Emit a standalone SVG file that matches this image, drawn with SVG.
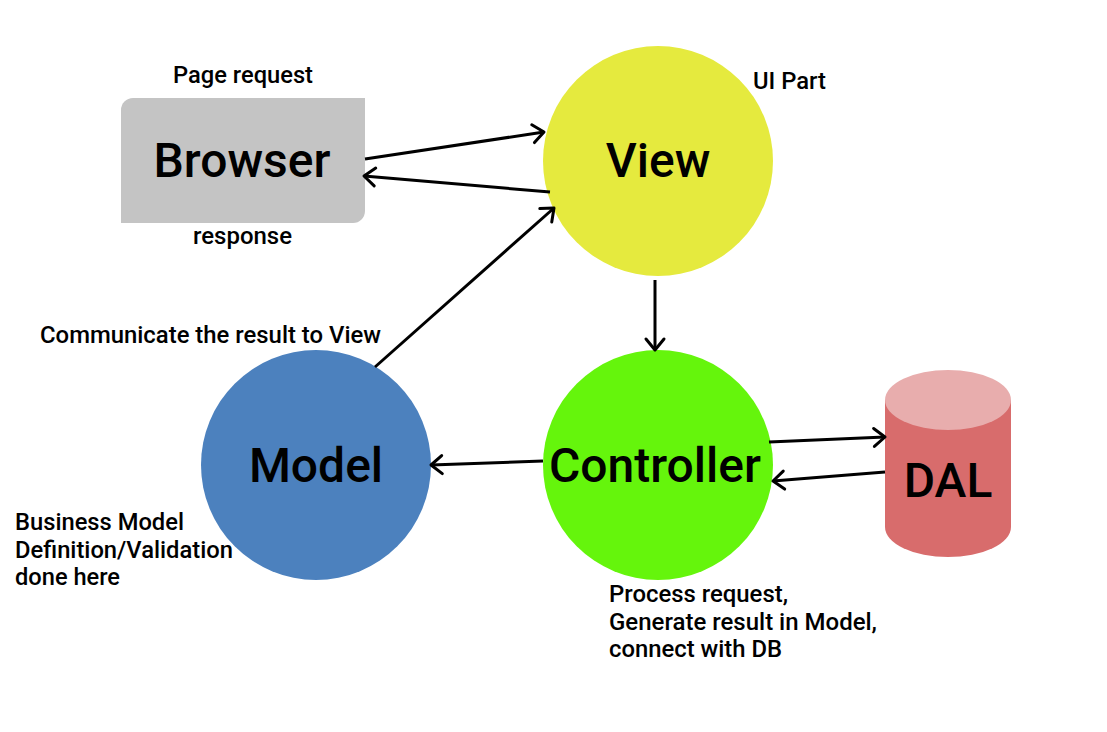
<svg xmlns="http://www.w3.org/2000/svg" width="1107" height="732" viewBox="0 0 1107 732">
<style>
text{font-family:Roboto,"Liberation Sans",sans-serif;fill:#000;}
.big{font-size:48px;font-weight:500;text-anchor:middle;}
.small{font-size:23px;font-weight:500;}
.conn{stroke:#000;stroke-width:3;fill:none;marker-end:url(#ah);}
</style>
<defs>
<marker id="ah" markerUnits="userSpaceOnUse" markerWidth="30" markerHeight="30" viewBox="-15 -15 30 30" refX="0" refY="0" orient="auto">
<path d="M-11,-9 L0,0 L-11,9" fill="none" stroke="#000" stroke-width="3" stroke-linecap="round" stroke-linejoin="round"/>
</marker>
</defs>
<rect width="1107" height="732" fill="#fff"/>
<g id="browser">
<path d="M133,98 H365 V211 A12,12 0 0 1 353,223 H121 V110 A12,12 0 0 1 133,98 Z" fill="#c4c4c4"/>
<text class="big" x="242" y="177">Browser</text>
</g>
<g id="view">
<circle cx="658" cy="161" r="115" fill="#e5ea3e"/>
<text class="big" x="658" y="177">View</text>
</g>
<g id="controller">
<circle cx="658" cy="465" r="115" fill="#65f50c"/>
<text class="big" x="655" y="482">Controller</text>
</g>
<g id="model">
<circle cx="316" cy="465" r="115" fill="#4c81be"/>
<text class="big" x="316" y="482">Model</text>
</g>
<g id="dal">
<path d="M885,400 V527 A63,30 0 0 0 1011,527 V400 Z" fill="#d86c6c"/>
<ellipse cx="948" cy="400" rx="63" ry="30" fill="#e8adad"/>
<text class="big" x="948" y="497">DAL</text>
</g>
<g id="labels">
<text class="small" x="173" y="83" textLength="140" lengthAdjust="spacingAndGlyphs">Page request</text>
<text class="small" x="193" y="244" textLength="99" lengthAdjust="spacingAndGlyphs">response</text>
<text class="small" x="753" y="89" textLength="73" lengthAdjust="spacingAndGlyphs">UI Part</text>
<text class="small" x="40" y="343" textLength="341" lengthAdjust="spacingAndGlyphs">Communicate the result to View</text>
<text class="small" x="15" y="530" textLength="169" lengthAdjust="spacingAndGlyphs">Business Model</text>
<text class="small" x="15" y="558" textLength="218" lengthAdjust="spacingAndGlyphs">Definition/Validation</text>
<text class="small" x="15" y="585" textLength="105" lengthAdjust="spacingAndGlyphs">done here</text>
<text class="small" x="609" y="602" textLength="179" lengthAdjust="spacingAndGlyphs">Process request,</text>
<text class="small" x="609" y="630" textLength="268" lengthAdjust="spacingAndGlyphs">Generate result in Model,</text>
<text class="small" x="609" y="657" textLength="173" lengthAdjust="spacingAndGlyphs">connect with DB</text>
</g>
<g id="connectors">
<line class="conn" x1="365" y1="159" x2="544" y2="132"/>
<line class="conn" x1="550" y1="192" x2="364" y2="176"/>
<line class="conn" x1="375" y1="367" x2="554" y2="208"/>
<line class="conn" x1="655" y1="280" x2="655" y2="350"/>
<line class="conn" x1="543" y1="461" x2="431" y2="465"/>
<line class="conn" x1="769" y1="442" x2="885" y2="437"/>
<line class="conn" x1="885" y1="472" x2="773" y2="481"/>
</g>
</svg>
